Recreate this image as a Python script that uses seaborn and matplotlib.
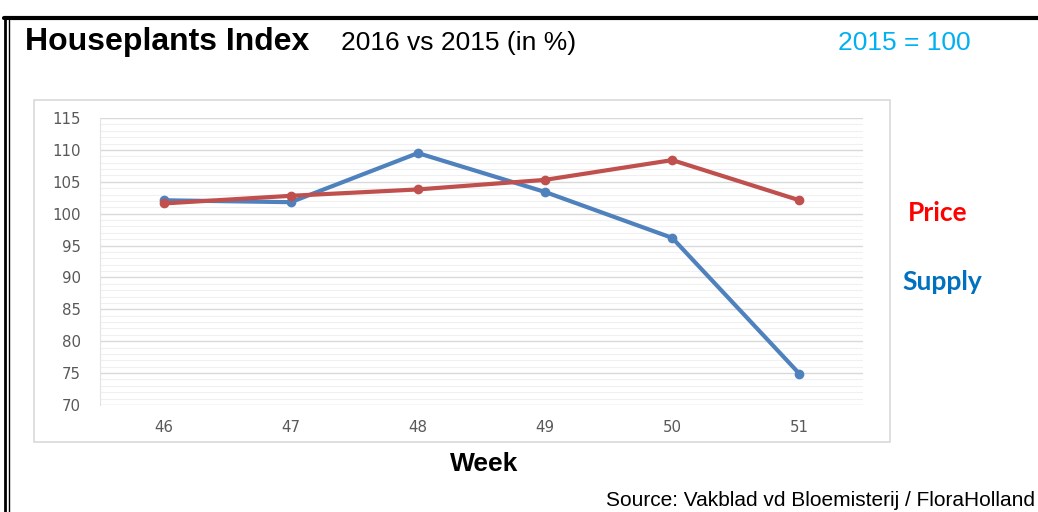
import matplotlib
matplotlib.use("Agg")
import matplotlib.pyplot as plt
import seaborn as sns
import pandas as pd
from matplotlib.lines import Line2D
from matplotlib.patches import Rectangle
from matplotlib.ticker import MultipleLocator

weeks = ["46", "47", "48", "49", "50", "51"]
supply = [102.1, 101.8, 109.5, 103.4, 96.2, 74.9]
price = [101.6, 102.8, 103.8, 105.3, 108.4, 102.1]
series_names = ["Supply", "Price"]

W, H = 1038, 512

def fx(x):
    return x / W

def fy(y):
    return 1 - y / H

df = pd.DataFrame({
    "week": weeks * 2,
    "value": supply + price,
    "series": [series_names[0]] * len(weeks) + [series_names[1]] * len(weeks),
})

sns.set_style("white")
plt.rcParams["font.family"] = ["Liberation Sans", "DejaVu Sans"]
plt.rcParams["text.color"] = "black"

fig = plt.figure(figsize=(W / 100, H / 100), dpi=100)
ax = fig.add_axes([fx(100), fy(405), fx(863) - fx(100), fy(118) - fy(405)])

sns.lineplot(data=df, x="week", y="value", hue="series", sort=False,
             palette={"Supply": "#4F81BD", "Price": "#C0504D"},
             marker="o", markersize=7, markeredgewidth=0, linewidth=3,
             legend=False, ax=ax)

ax.set_ylim(70, 115)
ax.set_xlim(-0.5, len(weeks) - 0.5)
ax.yaxis.set_major_locator(MultipleLocator(5))
ax.yaxis.set_minor_locator(MultipleLocator(1))
ax.grid(which="major", axis="y", color="#D9D9D9", linewidth=1)
ax.grid(which="minor", axis="y", color="#F0F0F0", linewidth=0.8)
ax.set_axisbelow(True)
for s in ["top", "right", "bottom"]:
    ax.spines[s].set_visible(False)
ax.spines["left"].set_color("#E3E3E3")
ax.tick_params(axis="both", which="both", length=0, labelsize=10.8,
               labelcolor="#595959")
for lab in ax.get_xticklabels() + ax.get_yticklabels():
    lab.set_family("DejaVu Sans")
ax.tick_params(axis="y", pad=14)
ax.tick_params(axis="x", pad=11)
ax.set_xlabel("")
ax.set_ylabel("")

# chart area box
fig.add_artist(Rectangle((fx(34), fy(442)), fx(890) - fx(34), fy(100) - fy(442),
                         transform=fig.transFigure, fill=False,
                         edgecolor="#D9D9D9", linewidth=1.2))

# outer frame
fig.add_artist(Line2D([fx(4), fx(1038)], [fy(18), fy(18)], color="black",
                      linewidth=3, transform=fig.transFigure))
fig.add_artist(Line2D([fx(5), fx(5)], [fy(17), 0], color="black",
                      linewidth=2, transform=fig.transFigure))
fig.add_artist(Line2D([fx(9), fx(9)], [fy(20), 0], color="black",
                      linewidth=1, transform=fig.transFigure))

fig.text(fx(25), fy(42), "Houseplants Index", fontsize=23, fontweight="bold",
         va="center", ha="left")
fig.text(fx(341), fy(43), "2016 vs 2015 (in %)", fontsize=19,
         va="center", ha="left")
fig.text(fx(838), fy(43), "2015 = 100", fontsize=19, color="#00B0F0",
         va="center", ha="left")

fig.text(fx(908), fy(213), "Price", fontsize=19, fontweight="bold",
         color="#FF0000", family=["Lato", "DejaVu Sans"], va="center", ha="left")
fig.text(fx(902), fy(282), "Supply", fontsize=19, fontweight="bold",
         color="#0070C0", family=["Lato", "DejaVu Sans"], va="center", ha="left")

fig.text(fx(484), fy(464), "Week", fontsize=19, fontweight="bold",
         va="center", ha="center")
fig.text(fx(1035), fy(501), "Source: Vakblad vd Bloemisterij / FloraHolland",
         fontsize=15, va="center", ha="right")

fig.savefig("out.png", dpi=100)
